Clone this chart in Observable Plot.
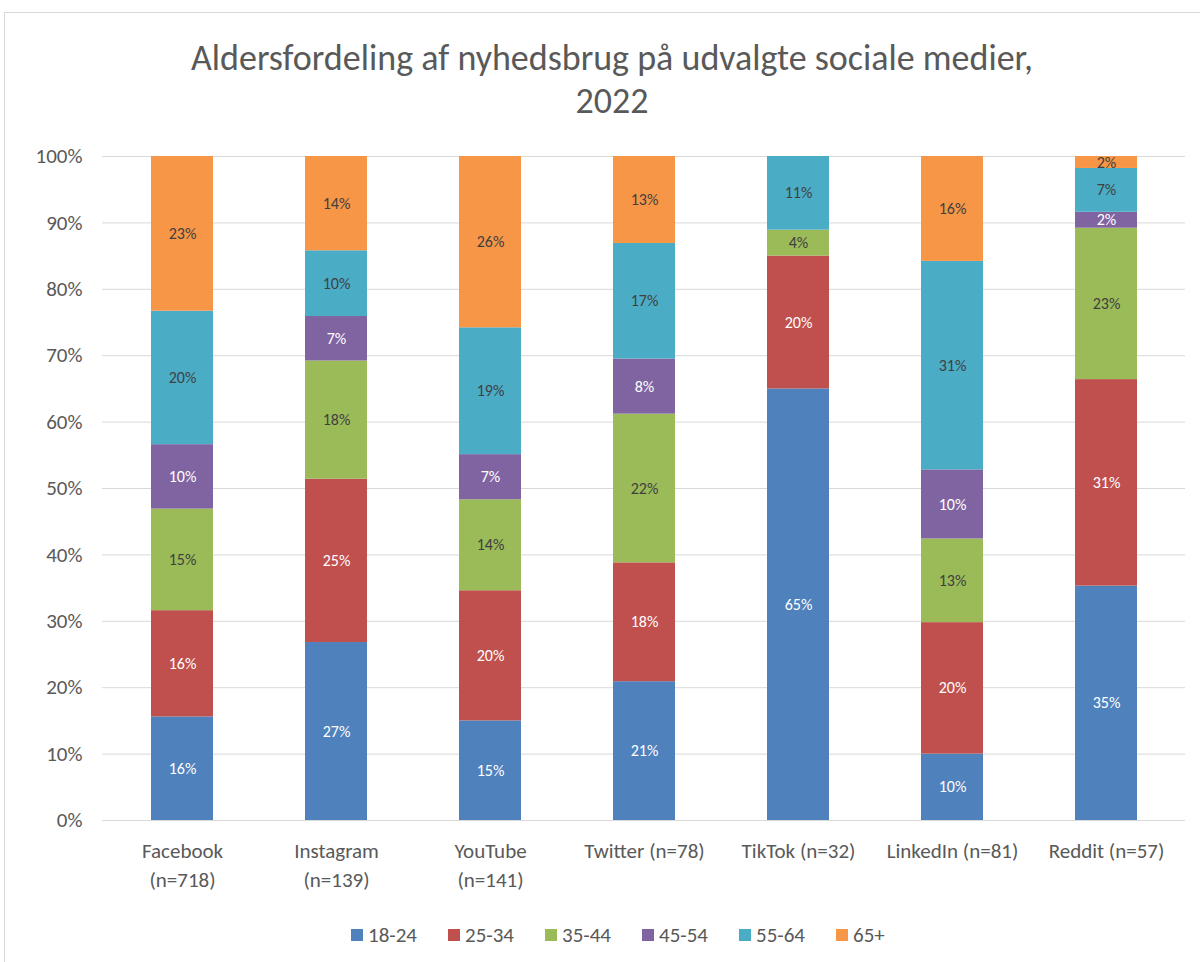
<!DOCTYPE html>
<html><head><meta charset="utf-8">
<script src="https://cdn.jsdelivr.net/npm/d3@7"></script>
<script src="https://cdn.jsdelivr.net/npm/@observablehq/plot@0.6"></script>
<style>
body{margin:0;width:1200px;height:962px;overflow:hidden;background:#fff;font-family:Carlito,Lato,sans-serif;position:relative}
#frame{position:absolute;left:4px;top:12px;width:1300px;height:1000px;border:1px solid #d9d9d9;}
#title{position:absolute;left:0;width:1224px;top:37px;text-align:center;font-size:36px;line-height:43px;color:#595959;font-weight:300}
#chart{position:absolute;left:0;top:140px}
#legend{position:absolute;left:351px;top:923px;display:flex;font-size:21px;line-height:24px;color:#595959}
#legend .item{width:97px;display:flex;align-items:center}
#legend .sw{width:12px;height:12px;margin-right:5px;flex:none}
</style></head>
<body>
<div id="frame"></div>
<div id="title">Aldersfordeling af nyhedsbrug på udvalgte sociale medier,<br>2022</div>
<div id="chart"></div>
<div id="legend"></div>
<script>
const platforms = ["Facebook","Instagram","YouTube","Twitter","TikTok","LinkedIn","Reddit"];
const platformLabels = ["Facebook\n(n=718)","Instagram\n(n=139)","YouTube\n(n=141)","Twitter (n=78)","TikTok (n=32)","LinkedIn (n=81)","Reddit (n=57)"];
const ages = ["18-24","25-34","35-44","45-54","55-64","65+"];
const ageColors = ["#4F81BD","#C0504D","#9BBB59","#8064A2","#4BACC6","#F79646"];
const s18_24 = [15.6, 26.8, 15.0, 20.9, 65.0, 10.0, 35.3];
const s25_34 = [16.0, 24.6, 19.6, 17.9, 20.0, 19.8, 31.1];
const s35_44 = [15.3, 17.8, 13.7, 22.4, 3.9, 12.6, 22.8];
const s45_54 = [9.7, 6.7, 6.8, 8.3, 0, 10.4, 2.4];
const s55_64 = [20.1, 9.9, 19.1, 17.4, 11.1, 31.4, 6.6];
const s65plus = [23.3, 14.2, 25.8, 13.1, 0, 15.8, 1.8];
const yTicks = [0,10,20,30,40,50,60,70,80,90,100];

const series = [s18_24, s25_34, s35_44, s45_54, s55_64, s65plus];
const data = [];
platforms.forEach((p, i) => {
  ages.forEach((a, j) => data.push({platform: p, age: a, value: series[j][i]}));
});
const labelOf = new Map(platforms.map((p, i) => [p, platformLabels[i]]));
const whiteAges = new Set(["18-24","25-34","45-54"]);
const fmt = d => d.value > 0 ? Math.round(d.value) + "%" : "";

const chart = Plot.plot({
  width: 1200, height: 760,
  marginTop: 16, marginBottom: 80, marginLeft: 102, marginRight: 15,
  style: {fontFamily: "Carlito, Lato, sans-serif", fontSize: "21px", color: "#595959", background: "transparent", overflow: "visible"},
  x: {domain: platforms, paddingInner: 0.6, paddingOuter: 0.3, label: null},
  y: {domain: [0, 100], label: null},
  color: {domain: ages, range: ageColors},
  marks: [
    Plot.gridY(yTicks, {stroke: "#d9d9d9", strokeOpacity: 1, strokeWidth: 1}),
    Plot.axisY(yTicks, {tickSize: 0, tickPadding: 20, tickFormat: d => d + "%", fontSize: 21, fill: "#595959", label: null}),
    Plot.axisX({tickSize: 0, tickPadding: 17, tickFormat: d => labelOf.get(d), fontSize: 21, lineHeight: 1.38, fill: "#595959", label: null}),
    Plot.barY(data, {x: "platform", y: "value", fill: "age"}),
    Plot.text(data, Plot.stackY({x: "platform", y: "value", text: d => whiteAges.has(d.age) ? fmt(d) : "", fill: "white", fontSize: 16})),
    Plot.text(data, Plot.stackY({x: "platform", y: "value", text: d => whiteAges.has(d.age) ? "" : fmt(d), fill: "#404040", fontSize: 16}))
  ]
});
document.getElementById("chart").appendChild(chart);

const legend = document.getElementById("legend");
ages.forEach((a, i) => {
  const item = document.createElement("div");
  item.className = "item";
  const sw = document.createElement("span");
  sw.className = "sw";
  sw.style.background = ageColors[i];
  const t = document.createElement("span");
  t.textContent = a;
  item.appendChild(sw); item.appendChild(t);
  legend.appendChild(item);
});
</script>
</body></html>
